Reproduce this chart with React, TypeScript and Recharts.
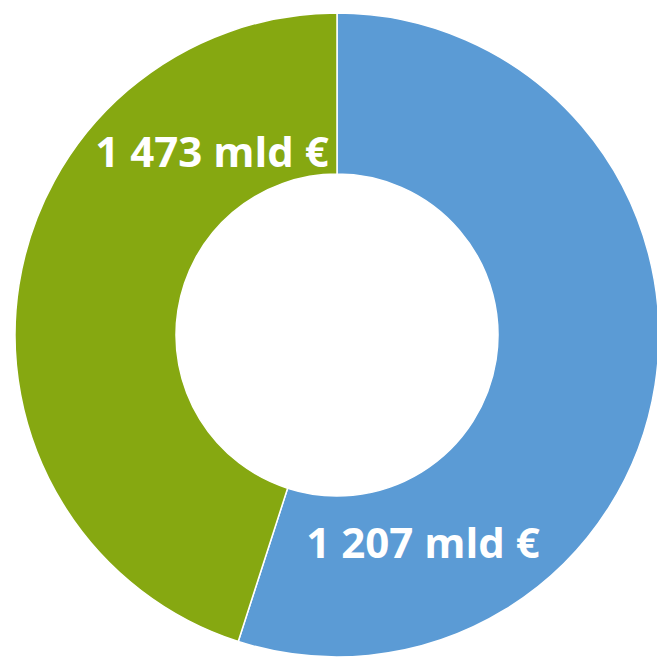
import React from 'react';
import { PieChart, Pie, Cell } from 'recharts';

const SEGMENTS = ['Blue share', 'Green share'];
const VALUES = [1473, 1207];
const LABELS = ['1 207 mld €', '1 473 mld €'];
const COLORS = ['#5B9BD5', '#86A811'];

// label anchor offsets from the pie centre (dx, dy)
const LABEL_OFFSETS = [
  { dx: 86, dy: 223 },
  { dx: -125, dy: -168 },
];

const chartData = SEGMENTS.map((name, i) => ({ name, value: VALUES[i] }));

const renderLabel = (props: any) => {
  const { cx, cy, index } = props;
  const off = LABEL_OFFSETS[index];
  return (
    <text
      x={cx + off.dx}
      y={cy + off.dy}
      fill="#fff"
      textAnchor="middle"
      fontFamily="'Open Sans', sans-serif"
      fontWeight="bold"
      fontSize={42}
    >
      {LABELS[index]}
    </text>
  );
};

export default function App() {
  return (
    <div style={{ position: 'fixed', left: 0, top: 0, width: 657, height: 657, background: '#fff' }}>
      <PieChart width={657} height={657} margin={{ top: 0, right: 0, bottom: 0, left: 0 }}>
        <Pie
          data={chartData}
          dataKey="value"
          nameKey="name"
          cx={337}
          cy={335}
          innerRadius={161}
          outerRadius={322}
          startAngle={90}
          endAngle={-270}
          stroke="#fff"
          strokeWidth={1.5}
          label={renderLabel}
          labelLine={false}
          isAnimationActive={false}
        >
          {chartData.map((entry, index) => (
            <Cell key={`cell-${index}`} fill={COLORS[index]} />
          ))}
        </Pie>
      </PieChart>
    </div>
  );
}
